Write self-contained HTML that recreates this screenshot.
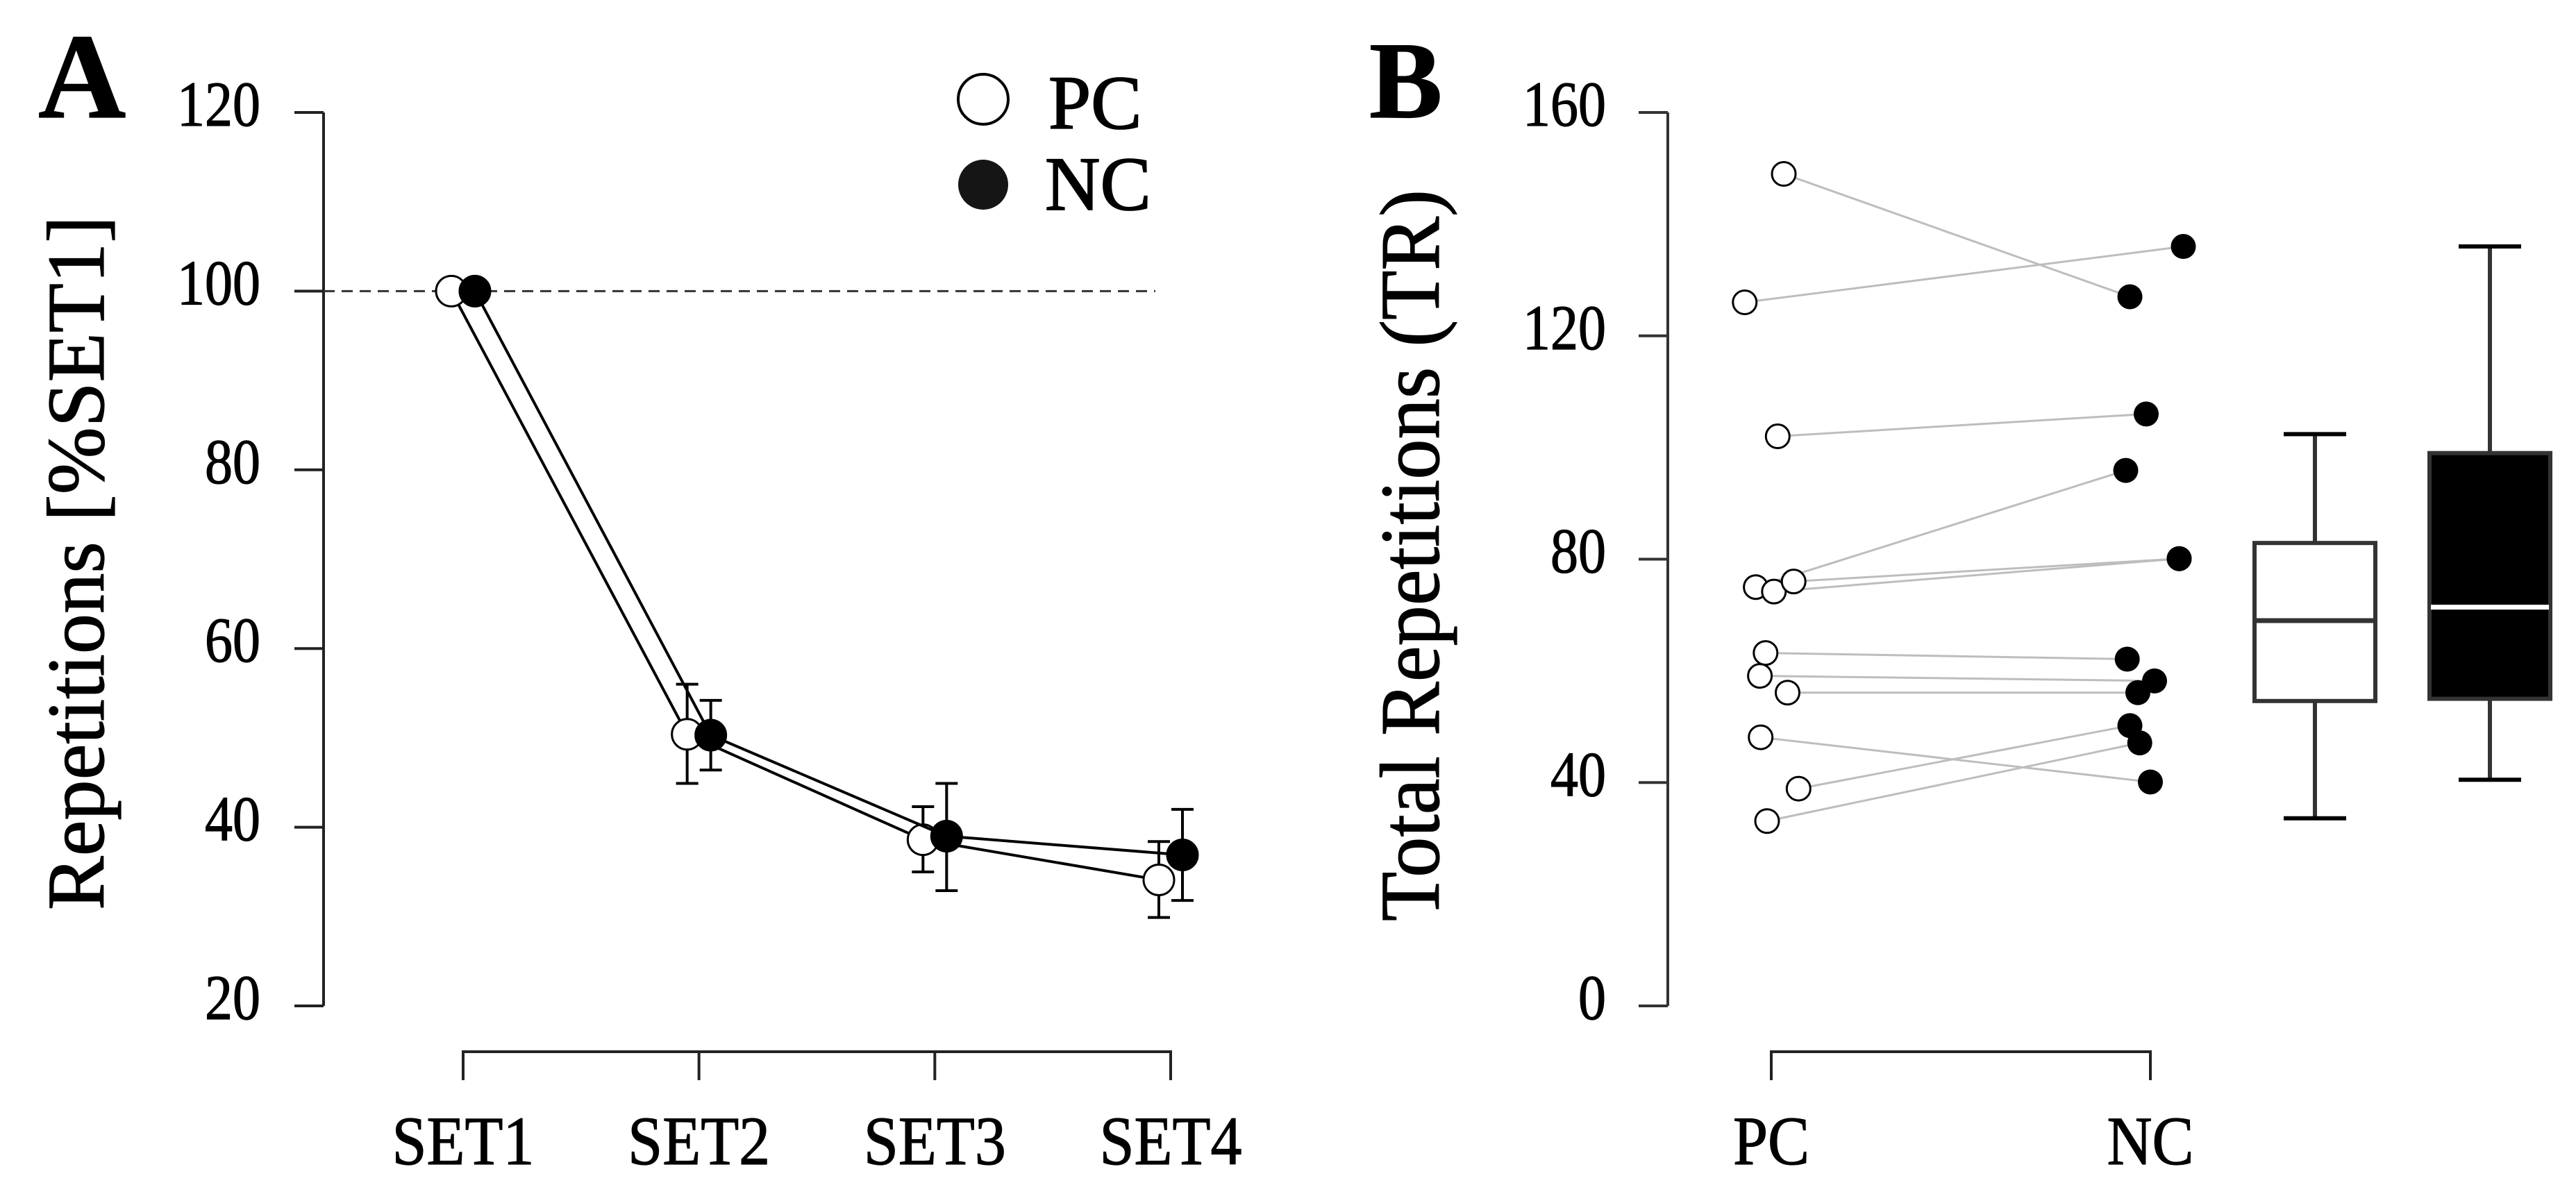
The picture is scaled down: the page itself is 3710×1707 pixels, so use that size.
<!DOCTYPE html>
<html><head><meta charset="utf-8"><style>
html,body{margin:0;padding:0;background:#fff}
svg{display:block}
text{font-family:"Liberation Serif",serif;fill:#000;stroke:#000;stroke-width:1.2px}
</style></head><body>
<svg id="chart" width="3710" height="1707" viewBox="0 0 3710 1707" xmlns="http://www.w3.org/2000/svg">
<g id="panelA"></g>
<g id="panelB"></g>
</svg>
<script>
// Panel A data
const setLabels = ["SET1","SET2","SET3","SET4"];
const aTicks = [20,40,60,80,100,120];
const pcMean = [100,50.4,38.6,34.1];
const pcLow = [100,44.9,35.0,29.9];
const pcHigh = [100,56.0,42.3,38.4];
const ncMean = [100,50.3,39.0,36.9];
const ncLow = [100,46.4,32.9,31.8];
const ncHigh = [100,54.2,44.9,42.0];
// Panel B data
const bGroups = ["PC","NC"];
const bTicks = [0,40,80,120,160];
const pcVals = [149,126,102,75,74.2,76,63.2,59.1,56.1,48.1,38.9,33.1];
const pcJit = [0.033,-0.07,0.017,-0.041,0.007,0.059,-0.015,-0.03,0.043,-0.028,0.072,-0.011];
const ncVals = [127,136,106,95.9,80.1,80.1,62.1,58.2,56.1,40.1,50.2,47.1];
const ncJit = [-0.054,0.087,-0.011,-0.065,0.076,0.076,-0.061,0.011,-0.033,0,-0.054,-0.028];
const pcBox = [33.6,54.6,69.0,82.9,102.4];
const ncBox = [40.5,55.0,71.4,99.0,136.0];

const NS="http://www.w3.org/2000/svg";
function mk(parent,tag,attrs,txt){const e=document.createElementNS(NS,tag);for(const k in attrs)e.setAttribute(k,attrs[k]);if(txt!==undefined)e.textContent=txt;parent.appendChild(e);return e;}

// ---------- Panel A ----------
const A=document.getElementById('panelA');
const ayS=v=>1449-(v-20)*(1449-162)/100;
const axS=i=>667+i*(1686-667)/3;
const AX=466;
let e;
e=mk(A,'line',{x1:AX,y1:ayS(120),x2:AX,y2:ayS(20),stroke:'#222','stroke-width':4});

aTicks.forEach(t=>{
  e=mk(A,'line',{x1:424,y1:ayS(t),x2:AX,y2:ayS(t),stroke:'#222','stroke-width':4});
  
  e=mk(A,'text',{transform:`translate(375,${ayS(t)+19}) scale(0.87,1)`,'font-size':92,'text-anchor':'end'},String(t));
  
});
e=mk(A,'path',{d:`M${axS(0)} 1556 V1515 H${axS(3)} V1556`,fill:'none',stroke:'#222','stroke-width':4});

setLabels.forEach((s,i)=>{
  if(i>0&&i<3){e=mk(A,'line',{x1:axS(i),y1:1515,x2:axS(i),y2:1556,stroke:'#222','stroke-width':4});
  }
  e=mk(A,'text',{transform:`translate(${axS(i)},1677) scale(0.9,1)`,'font-size':100,'text-anchor':'middle'},s);
  
});
e=mk(A,'line',{x1:AX,y1:ayS(100),x2:1664,y2:ayS(100),stroke:'#333','stroke-width':3,'stroke-dasharray':'16 10'});

e=mk(A,'text',{transform:'translate(149,811) rotate(-90)','font-size':118,'text-anchor':'middle',textLength:1000,lengthAdjust:'spacingAndGlyphs'},'Repetitions [%SET1]');

e=mk(A,'text',{x:55,y:169,'font-size':175,'font-weight':'bold'},'A');


function series(mean,lo,hi,off,fill,name){
  const pts=mean.map((v,i)=>`${axS(i)+off},${ayS(v)}`).join(' ');
  let l=mk(A,'polyline',{points:pts,fill:'none',stroke:'#000','stroke-width':4});
  
  mean.forEach((v,i)=>{
    const x=axS(i)+off;
    if(hi[i]!==lo[i]){
      let g=mk(A,'path',{d:`M${x} ${ayS(lo[i])} V${ayS(hi[i])} M${x-16} ${ayS(lo[i])} H${x+16} M${x-16} ${ayS(hi[i])} H${x+16}`,stroke:'#000','stroke-width':4,fill:'none'});
      
    }
  });
  mean.forEach((v,i)=>{
    const x=axS(i)+off;
    let c=mk(A,'circle',{cx:x,cy:ayS(v),r:22,fill:fill,stroke:'#000','stroke-width':3});
    
  });
}
series(pcMean,pcLow,pcHigh,-17,'#fff','pc');
series(ncMean,ncLow,ncHigh,17,'#000','nc');
e=mk(A,'circle',{cx:1416,cy:143,r:36,fill:'#fff',stroke:'#000','stroke-width':4});

e=mk(A,'circle',{cx:1416,cy:266,r:36,fill:'#151515'});

e=mk(A,'text',{x:1510,y:185,'font-size':110,style:'stroke-width:1.8px'},'PC');

e=mk(A,'text',{x:1505,y:302,'font-size':110,style:'stroke-width:1.8px'},'NC');


// ---------- Panel B ----------
const B=document.getElementById('panelB');
const byS=v=>1449-v*(1449-162)/160;
const bxS=t=>2551+t*(3097-2551);
const BX=2402;
e=mk(B,'line',{x1:BX,y1:byS(160),x2:BX,y2:byS(0),stroke:'#333','stroke-width':4});

bTicks.forEach(t=>{
  e=mk(B,'line',{x1:2360,y1:byS(t),x2:BX,y2:byS(t),stroke:'#333','stroke-width':4});
  
  e=mk(B,'text',{transform:`translate(2313,${byS(t)+19}) scale(0.87,1)`,'font-size':92,'text-anchor':'end'},String(t));
  
});
e=mk(B,'path',{d:`M${bxS(0)} 1556 V1515 H${bxS(1)} V1556`,fill:'none',stroke:'#222','stroke-width':4});

bGroups.forEach((g,i)=>{
  e=mk(B,'text',{transform:`translate(${bxS(i)},1677) scale(0.9,1)`,'font-size':100,'text-anchor':'middle'},g);
  
});
e=mk(B,'text',{transform:'translate(2072,800) rotate(-90)','font-size':122,'text-anchor':'middle',textLength:1054,lengthAdjust:'spacingAndGlyphs'},'Total Repetitions (TR)');

e=mk(B,'text',{x:1972,y:169,'font-size':158,'font-weight':'bold'},'B');


pcVals.forEach((v,i)=>{
  e=mk(B,'line',{x1:bxS(pcJit[i]),y1:byS(v),x2:bxS(1+ncJit[i]),y2:byS(ncVals[i]),stroke:'#bdbdbd','stroke-width':3});
  
});
pcVals.forEach((v,i)=>{
  e=mk(B,'circle',{cx:bxS(pcJit[i]),cy:byS(v),r:17,fill:'#fff',stroke:'#000','stroke-width':3});
  
});
ncVals.forEach((v,i)=>{
  e=mk(B,'circle',{cx:bxS(1+ncJit[i]),cy:byS(v),r:18,fill:'#000'});
  
});
function box(vals,cx,fill,medCol,name){
  const [mn,q1,md,q3,mx]=vals;
  let w=mk(B,'path',{d:`M${cx} ${byS(mn)} V${byS(q1)} M${cx} ${byS(q3)} V${byS(mx)}`,stroke:'#333','stroke-width':6,fill:'none'});
  
  let c=mk(B,'path',{d:`M${cx-45} ${byS(mn)} H${cx+45} M${cx-45} ${byS(mx)} H${cx+45}`,stroke:'#000','stroke-width':6,fill:'none'});
  
  let r=mk(B,'rect',{x:cx-87,y:byS(q3),width:174,height:byS(q1)-byS(q3),fill:fill,stroke:'#333','stroke-width':6});
  
  let m=mk(B,'line',{x1:cx-85,y1:byS(md),x2:cx+85,y2:byS(md),stroke:medCol,'stroke-width':7});
  
}
box(pcBox,3334,'#fff','#333','pc-boxplot');
box(ncBox,3586,'#000','#fff','nc-boxplot');
</script>
</body></html>
